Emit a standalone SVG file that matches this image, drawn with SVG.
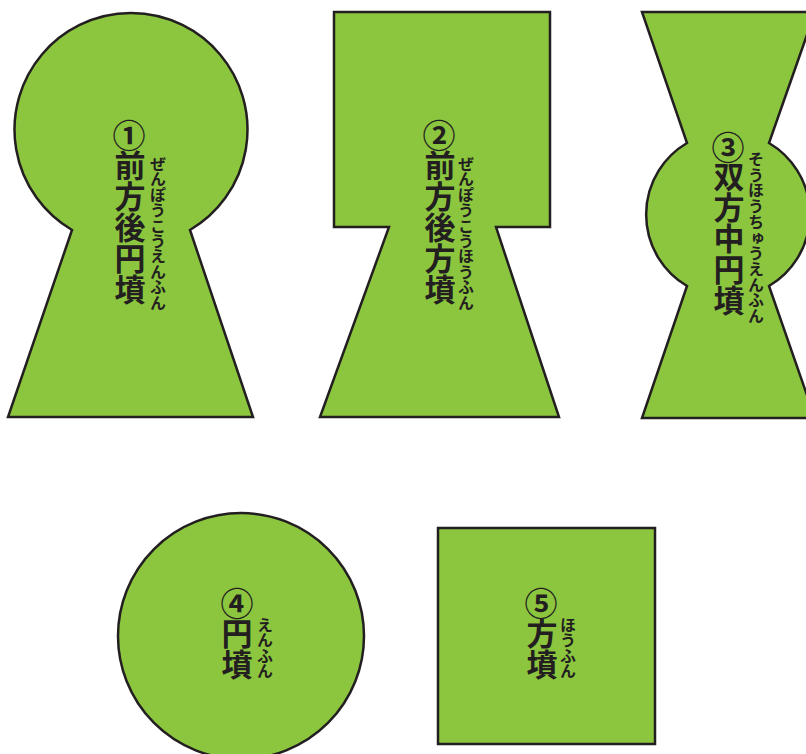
<svg xmlns="http://www.w3.org/2000/svg" width="806" height="754" viewBox="0 0 806 754">
<style>
.shape{fill:#8cc63f;stroke:#231f20;stroke-width:2.5;stroke-linejoin:miter}
.num{font-family:"Noto Sans CJK JP","Noto Sans",sans-serif;font-weight:700;font-size:33px;fill:#231f20;text-anchor:middle;dominant-baseline:central}
.main{font-family:"Noto Sans CJK JP",sans-serif;font-weight:700;font-size:31px;fill:#231f20;writing-mode:vertical-rl}
.ruby{font-family:"Noto Sans CJK JP",sans-serif;font-weight:700;font-size:16px;letter-spacing:-0.6px;fill:#231f20;writing-mode:vertical-rl}
</style>
<rect width="806" height="754" fill="#ffffff"/>
<g id="node1">
<path class="shape" d="M72,230 A116.5,116.5 0 1 1 190,230 L253,417 L8,417 Z"/>
<text class="num" x="129" y="134">①</text>
<text class="main" x="130" y="150">前方後円墳</text>
<text class="ruby" x="158" y="156">ぜんぽうこうえんふん</text>
</g>
<g id="node2">
<path class="shape" d="M334,12 H550 V227 H496 L559,417 H320 L389,227 H334 Z"/>
<text class="num" x="439" y="134">②</text>
<text class="main" x="440" y="150">前方後方墳</text>
<text class="ruby" x="466" y="156">ぜんぽうこうほうふん</text>
</g>
<g id="node3">
<path class="shape" d="M642,12 H815 L769,143 A83,83 0 0 1 769,286 L815,418 H642 L687,286 A83,83 0 0 1 687,143 Z"/>
<text class="num" x="728" y="146">③</text>
<text class="main" x="729" y="161">双方中円墳</text>
<text class="ruby" x="756" y="151" style="letter-spacing:-0.3px">そうほうちゅうえんふん</text>
</g>
<g id="node4">
<circle class="shape" cx="241" cy="636" r="123"/>
<text class="num" x="237" y="602">④</text>
<text class="main" x="237" y="618">円墳</text>
<text class="ruby" x="265" y="617">えんふん</text>
</g>
<g id="node5">
<rect class="shape" x="438" y="528" width="217" height="216"/>
<text class="num" x="541" y="602">⑤</text>
<text class="main" x="542" y="618">方墳</text>
<text class="ruby" x="568" y="617">ほうふん</text>
</g>
<g id="connectors"/>
</svg>
